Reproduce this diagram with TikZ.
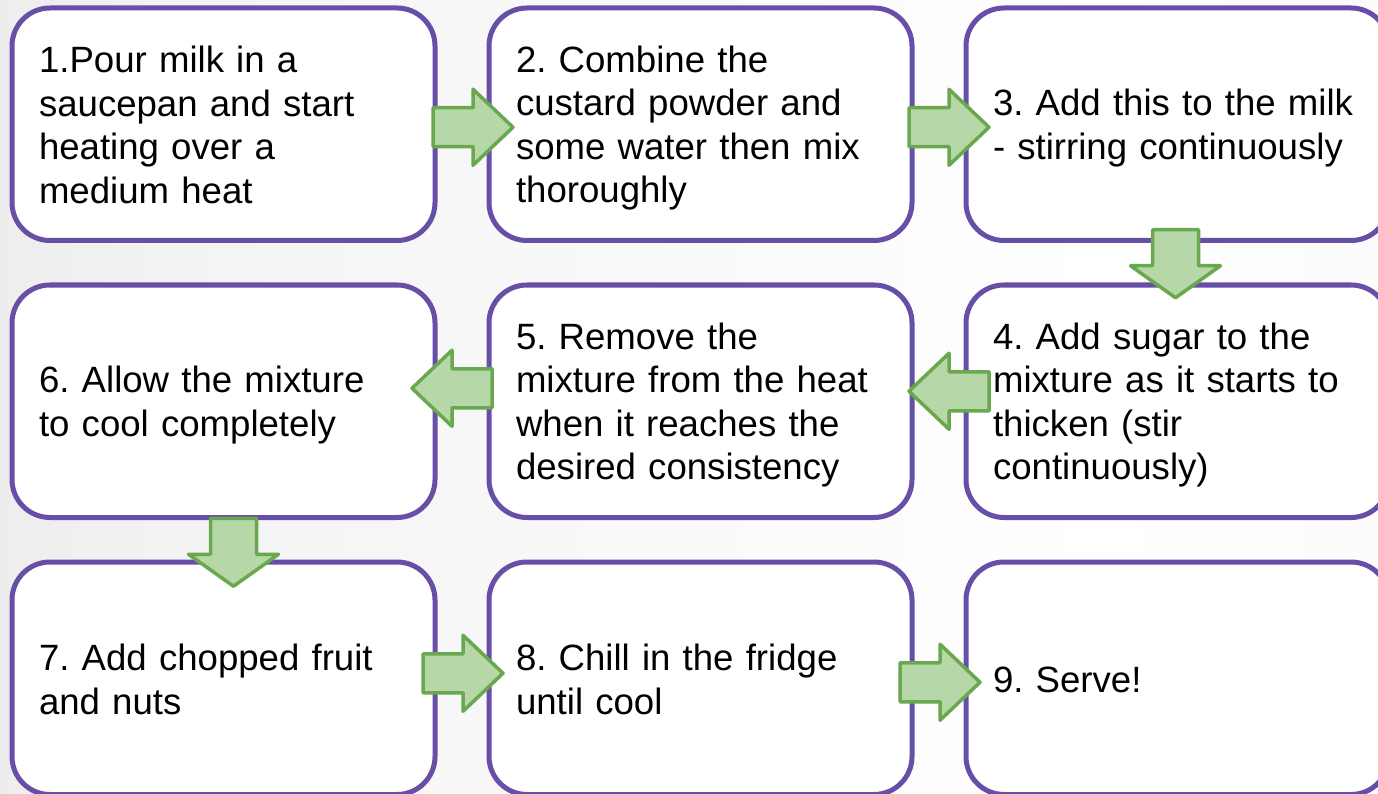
\documentclass[tikz,border=0pt]{standalone}
\usepackage{fontspec}
\setmainfont{Liberation Sans}
\usetikzlibrary{calc}
\definecolor{boxline}{HTML}{674EA7}
\definecolor{arrfill}{HTML}{B6D7A8}
\definecolor{arrline}{HTML}{6AA84F}
\definecolor{bgL}{HTML}{D8D8D8}
\definecolor{bgM}{HTML}{F4F4F4}
\definecolor{bgW}{HTML}{FFFFFF}
\definecolor{bgR}{HTML}{F3F3F3}
\pgfdeclarehorizontalshading{bgshade}{100bp}{color(0bp)=(bgL); color(33bp)=(bgM); color(65bp)=(bgW); color(100bp)=(bgR)}
\tikzset{
  stepbox/.style={draw=boxline, line width=5pt, fill=white, rounded corners=38pt,
    minimum width=423pt, minimum height=232.5pt, text width=369pt,
    inner xsep=27pt, inner ysep=0pt, align=left, anchor=north west,
    font=\fontsize{36.6}{43.5}\selectfont\frenchspacing,
    execute at begin node={\rule{0pt}{34pt}},
    execute at end node={\rule[-6pt]{0pt}{6pt}}},
  arrowstyle/.style={draw=arrline, fill=arrfill, line width=3.5pt, line join=round},
  harrow/.pic={\path[arrowstyle] (-40,-19.5) -- (0,-19.5) -- (0,-38) -- (40,0) -- (0,38) -- (0,19.5) -- (-40,19.5) -- cycle;},
  varrow/.pic={\path[arrowstyle] (-34,-23) -- (2,-23) -- (2,-45) -- (34,0) -- (2,45) -- (2,23) -- (-34,23) -- cycle;}
}
\begin{document}
\begin{tikzpicture}[x=1pt,y=-1pt]
\useasboundingbox (0,0) rectangle (1378,794);
\clip (0,0) rectangle (1378,794);
\shade[shading=bgshade] (0,0) rectangle (1378,794);

\node[stepbox] (b1) at (9.5,5.5) {1.Pour milk in a\\saucepan and start\\heating over a\\medium heat};
\node[stepbox] (b2) at (486.5,5.5) {2. Combine the\\custard powder and\\some water then mix\\thoroughly};
\node[stepbox] (b3) at (963.5,5.5) {3. Add this to the milk\\- stirring continuously};
\node[stepbox] (b4) at (963.5,282.5) {4. Add sugar to the\\mixture as it starts to\\thicken (stir\\continuously)};
\node[stepbox] (b5) at (486.5,282.5) {5. Remove the\\mixture from the heat\\when it reaches the\\desired consistency};
\node[stepbox] (b6) at (9.5,282.5) {6. Allow the mixture\\to cool completely};
\node[stepbox] (b7) at (9.5,559.5) {7. Add chopped fruit\\and nuts};
\node[stepbox] (b8) at (486.5,559.5) {8. Chill in the fridge\\until cool};
\node[stepbox] (b9) at (963.5,559.5) {9. Serve!};

\pic at ($(b1.east)!0.5!(b2.west)+(11,3)$) {harrow};
\pic at ($(b2.east)!0.5!(b3.west)+(10,3)$) {harrow};
\pic[rotate=-90] at ($(b3.south)!0.5!(b4.north)+(-2,1)$) {varrow};
\pic[rotate=180] at ($(b4.west)!0.5!(b5.east)+(10,-10)$) {harrow};
\pic[rotate=180] at ($(b5.west)!0.5!(b6.east)+(-10,-13)$) {harrow};
\pic[rotate=-90] at ($(b6.south)!0.5!(b7.north)+(10,12.5)$) {varrow};
\pic at ($(b7.east)!0.5!(b8.west)+(1,-5)$) {harrow};
\pic at ($(b8.east)!0.5!(b9.west)+(1,4)$) {harrow};
\end{tikzpicture}
\end{document}
